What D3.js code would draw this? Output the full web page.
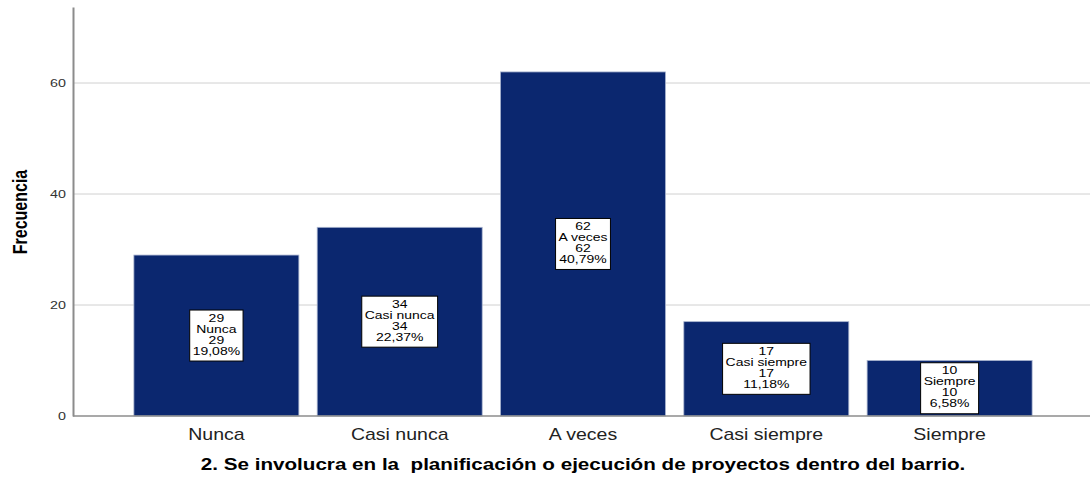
<!DOCTYPE html>
<html><head><meta charset="utf-8">
<script src="https://cdn.jsdelivr.net/npm/d3@7"></script>
<style>body{margin:0;background:#fff}svg{display:block}</style>
</head><body><svg id="c" width="1090" height="477"></svg>
<script>
const categories = ["Nunca","Casi nunca","A veces","Casi siempre","Siempre"];
const counts = [29,34,62,17,10];
const percents = ["19,08%","22,37%","40,79%","11,18%","6,58%"];
const yTicks = [0,20,40,60];
const yTitle = "Frecuencia";
const xTitle = "2. Se involucra en la\u00a0 planificación o ejecución de proyectos dentro del barrio.";

const FONT = "Liberation Sans, Arial, sans-serif";
const SX = 1.25; // horizontal stretch of the original rendering
const svg = d3.select("#c");
const x0 = 73, x1 = 1090, yB = 416, yT = 7;
const x = d3.scaleBand().domain(categories).range([x0 + 1.5, x1 + 1.5]).paddingInner(0.1).paddingOuter(0.324);
const y = d3.scaleLinear().domain([0, 73.7]).range([yB, yT]);

function sText(g, px, py, txt, size, opts={}) {
  const t = g.append("text")
    .attr("transform", `translate(${px},${py}) scale(${opts.sx||SX},1)`)
    .attr("x", 0).attr("y", 0)
    .attr("text-anchor", opts.anchor || "middle")
    .attr("font-family", FONT).attr("font-size", size)
    .attr("font-weight", opts.weight || "normal")
    .attr("fill", opts.fill || "#000").text(txt);
  return t;
}

// gridlines
svg.append("g").selectAll("line").data(yTicks.filter(d=>d>0)).join("line")
  .attr("x1", x0).attr("x2", x1).attr("y1", d=>y(d)).attr("y2", d=>y(d))
  .attr("stroke", "#d0d0d0").attr("stroke-width", 1);

// y axis
const ya = d3.axisLeft(y).tickValues(yTicks).tickSize(0).tickFormat("");
const gy = svg.append("g").attr("transform", `translate(${x0},0)`).call(ya);
gy.select(".domain").attr("stroke", "#8c8c8c").attr("stroke-width", 2);
const yl = svg.append("g");
yTicks.forEach(v => sText(yl, 66, y(v) + 4, String(v), 11, {anchor:"end", fill:"#333", sx:1.3}));

// bars
svg.append("g").selectAll("rect").data(categories).join("rect")
  .attr("x", d=>x(d)).attr("width", x.bandwidth())
  .attr("y", (d,i)=>y(counts[i])).attr("height", (d,i)=>yB - y(counts[i]))
  .attr("fill", "#0b276f").attr("stroke", "#a9b4cf").attr("stroke-width", 0.8);

// x axis
const xa = d3.axisBottom(x).tickSize(0).tickFormat("");
const gx = svg.append("g").attr("transform", `translate(0,${yB})`).call(xa);
gx.select(".domain").attr("stroke", "#8c8c8c").attr("stroke-width", 1.5).attr("d", `M${x0},0H${x1}`);
const xl = svg.append("g");
categories.forEach(c => sText(xl, x(c) + x.bandwidth()/2, 440, c, 16, {fill:"#222", sx:1.22}));

// labels
const lg = svg.append("g");
categories.forEach((c,i)=>{
  const cx = x(c) + x.bandwidth()/2;
  const cy = y(counts[i]/2);
  const lines = [String(counts[i]), c, String(counts[i]), percents[i]];
  const g = lg.append("g");
  const tg = g.append("g");
  let maxW = 0;
  lines.forEach((l,k)=>{
    const t = sText(tg, cx, cy - 14 + k*11, l, 11, {sx:1.27});
    maxW = Math.max(maxW, t.node().getBBox().width * 1.27);
  });
  g.insert("rect",":first-child").attr("x", cx - maxW/2 - 3).attr("y", cy - 25.5).attr("width", maxW + 6).attr("height", 51)
    .attr("fill","#fff").attr("stroke","#000").attr("stroke-width",1);
});

// y title
svg.append("text").attr("transform", `translate(27,${212}) rotate(-90) scale(1,1.25)`)
  .attr("text-anchor","middle").attr("font-family", FONT)
  .attr("font-weight","bold").attr("font-size",16).attr("fill","#000").text(yTitle);

// x title
sText(svg, 583, 470, xTitle, 16, {weight:"bold", sx:1.29});
</script></body></html>
